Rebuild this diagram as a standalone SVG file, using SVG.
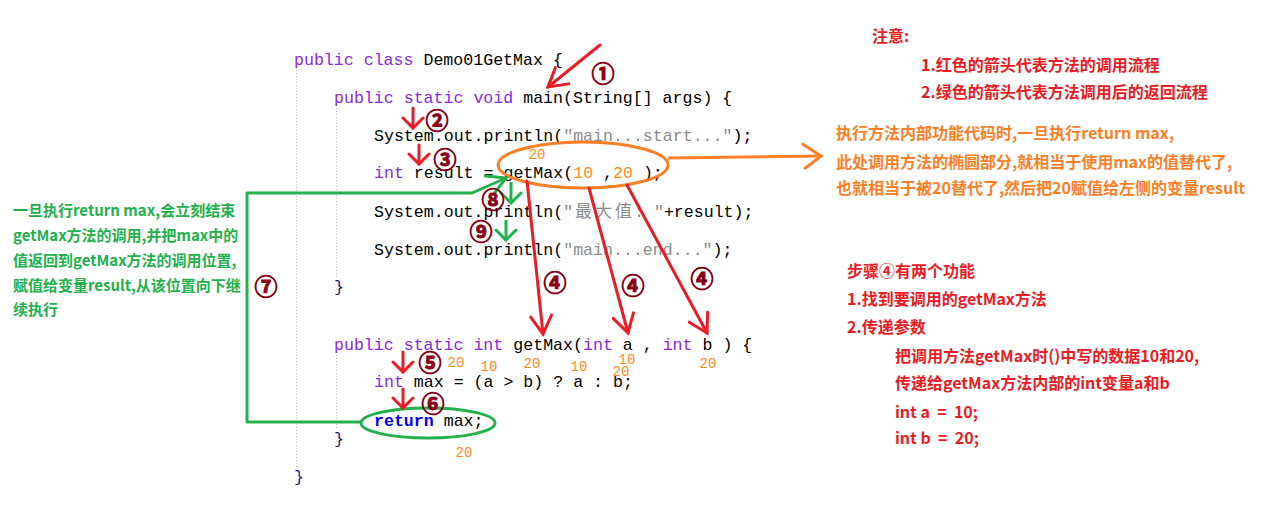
<svg xmlns="http://www.w3.org/2000/svg" width="1275" height="509" viewBox="0 0 1275 509">
<style>
.code{font-family:"Liberation Mono","Courier New",monospace;font-size:16.6px;fill:#000}
.kw{fill:#8a2be2}
.ret{fill:#0000ff;font-weight:bold}
.str{fill:#8c8c8c}
.br{fill:#1a1a80}
.onum{fill:#ff8c1a}
.val{font-family:"Liberation Mono","Courier New",monospace;font-size:14px;fill:#ff8c1a;text-anchor:middle}
.cjk{font-family:"Noto Sans CJK SC",sans-serif;font-size:17px}
.circ{font-family:"Noto Sans CJK SC",sans-serif;font-size:23px;font-weight:bold;fill:#880015;stroke:#880015;stroke-width:0.9;text-anchor:middle}
.note{font-family:"Noto Sans CJK SC",sans-serif;font-size:16px;font-weight:bold}
.red{fill:#ed1c24}
.orange{fill:#ff7f27}
.green{fill:#22b14c}
.gnote{font-family:"Noto Sans CJK SC",sans-serif;font-size:15px;font-weight:bold;fill:#22b14c}
.guide{stroke:#c0c0c0;stroke-width:1;stroke-dasharray:1 2;fill:none}
.ra{stroke:#ed1c24;stroke-width:3;fill:none;stroke-linecap:round}
.ga{stroke:#22b14c;stroke-width:3;fill:none;stroke-linejoin:round}
.oa{stroke:#ff7f27;stroke-width:3;fill:none}
</style>
<defs>
<marker id="ahR" viewBox="0 0 24 24" refX="21" refY="12" markerWidth="24" markerHeight="24" orient="auto" markerUnits="userSpaceOnUse"><path d="M3,1.5 L21,12 L3,22.5" fill="none" stroke="#ed1c24" stroke-width="3" stroke-linecap="round"/></marker>
<marker id="ahRs" viewBox="0 0 16 24" refX="14" refY="12" markerWidth="16" markerHeight="24" orient="auto" markerUnits="userSpaceOnUse"><path d="M4,2 L14,12 L4,22" fill="none" stroke="#ed1c24" stroke-width="3" stroke-linecap="round"/></marker>
<marker id="ahGs" viewBox="0 0 16 24" refX="14" refY="12" markerWidth="16" markerHeight="24" orient="auto" markerUnits="userSpaceOnUse"><path d="M4,2 L14,12 L4,22" fill="none" stroke="#22b14c" stroke-width="3" stroke-linecap="round"/></marker>
<marker id="ahG" viewBox="0 0 24 24" refX="21" refY="12" markerWidth="24" markerHeight="24" orient="auto" markerUnits="userSpaceOnUse"><path d="M3,2 L21,12 L3,22" fill="none" stroke="#22b14c" stroke-width="3" stroke-linecap="round"/></marker>
<marker id="ahO" viewBox="0 0 24 28" refX="21" refY="14" markerWidth="24" markerHeight="28" orient="auto" markerUnits="userSpaceOnUse"><path d="M3,2 L21,14 L5,26" fill="none" stroke="#ff7f27" stroke-width="3" stroke-linecap="round"/></marker>
</defs>
<rect width="1275" height="509" fill="#ffffff"/>

<g id="guides">
<line class="guide" x1="296.5" y1="70" x2="296.5" y2="467"/>
<line class="guide" x1="336.5" y1="108" x2="336.5" y2="278"/>
<line class="guide" x1="336.5" y1="352" x2="336.5" y2="430"/>
</g>

<g id="code">
<text class="code" x="294" y="65" xml:space="preserve"><tspan class="kw">public class</tspan> Demo01GetMax {</text>
<text class="code" x="334" y="103" xml:space="preserve"><tspan class="kw">public static void</tspan> main(String[] args) {</text>
<text class="code" x="374" y="141" xml:space="preserve">System.out.println(<tspan class="str">"main...start..."</tspan>);</text>
<text class="code" x="374" y="178" xml:space="preserve"><tspan class="kw">int</tspan> result = getMax(<tspan class="onum">10</tspan> ,<tspan class="onum">20</tspan> );</text>
<text class="code" x="374" y="217" xml:space="preserve">System.out.println(<tspan class="str">"</tspan><tspan class="str cjk" x="575 595 615">最大值</tspan><tspan class="str" x="634">: "</tspan>+result);</text>
<text class="code" x="374" y="255" xml:space="preserve">System.out.println(<tspan class="str">"main...end..."</tspan>);</text>
<text class="code br" x="334" y="292">}</text>
<text class="code" x="334" y="350" xml:space="preserve"><tspan class="kw">public static int</tspan> getMax(<tspan class="kw">int</tspan> a , <tspan class="kw">int</tspan> b ) {</text>
<text class="code" x="374" y="387" xml:space="preserve"><tspan class="kw">int</tspan> max = (a &gt; b) ? a : b;</text>
<text class="code" x="374" y="426" xml:space="preserve"><tspan class="ret">return</tspan> max;</text>
<text class="code br" x="334" y="444">}</text>
<text class="code br" x="294" y="482">}</text>
</g>

<g id="values">
<text class="val" x="537" y="159">20</text>
<text class="val" x="456" y="367">20</text>
<text class="val" x="489" y="371">10</text>
<text class="val" x="532" y="368">20</text>
<text class="val" x="579" y="371">10</text>
<text class="val" x="627" y="364">10</text>
<text class="val" x="621" y="376">20</text>
<text class="val" x="708" y="368">20</text>
<text class="val" x="464" y="457">20</text>
</g>

<g id="connectors">
<ellipse cx="583" cy="165" rx="85" ry="23" class="oa"/>
<path class="oa" d="M668,158 L821,156" marker-end="url(#ahO)"/>
<ellipse cx="428" cy="423" rx="67" ry="15" class="ga"/>
<path class="ga" d="M361,422 L247,422 L247,193 L472,193 L506,178" marker-end="url(#ahG)"/>
<path class="ga" d="M511,182 L511,203" marker-end="url(#ahGs)"/>
<path class="ga" d="M506,220 L506,240" marker-end="url(#ahGs)"/>
<path class="ra" d="M600,45 L548,87" marker-end="url(#ahR)"/>
<path class="ra" d="M413,108 L413,128" marker-end="url(#ahRs)"/>
<path class="ra" d="M419,145 L419,164" marker-end="url(#ahRs)"/>
<path class="ra" d="M527,181 L543,334" marker-end="url(#ahR)"/>
<path class="ra" d="M589,188 L628,333" marker-end="url(#ahR)"/>
<path class="ra" d="M627,185 L707,333" marker-end="url(#ahR)"/>
<path class="ra" d="M403,352 L403,372" marker-end="url(#ahRs)"/>
<path class="ra" d="M403,389 L403,408" marker-end="url(#ahRs)"/>
</g>

<g id="steps">
<text class="circ" x="603" y="82">①</text>
<text class="circ" x="437" y="129">②</text>
<text class="circ" x="445" y="168">③</text>
<text class="circ" x="555" y="291">④</text>
<text class="circ" x="633" y="294">④</text>
<text class="circ" x="702" y="287">④</text>
<text class="circ" x="430" y="371">⑤</text>
<text class="circ" x="433" y="412">⑥</text>
<text class="circ" x="266" y="295">⑦</text>
<text class="circ" x="493" y="208">⑧</text>
<text class="circ" x="481" y="240">⑨</text>
</g>

<g id="note-legend">
<text class="note red" x="872" y="42">注意:</text>
<text class="note red" x="921" y="71">1.红色的箭头代表方法的调用流程</text>
<text class="note red" x="921" y="98">2.绿色的箭头代表方法调用后的返回流程</text>
</g>

<g id="note-return">
<text class="note orange" x="836" y="139">执行方法内部功能代码时,一旦执行return max,</text>
<text class="note orange" x="836" y="168">此处调用方法的椭圆部分,就相当于使用max的值替代了,</text>
<text class="note orange" x="836" y="194">也就相当于被20替代了,然后把20赋值给左侧的变量result</text>
</g>

<g id="note-step4">
<text class="note red" x="847" y="277">步骤④有两个功能</text>
<text class="note red" x="847" y="305">1.找到要调用的getMax方法</text>
<text class="note red" x="847" y="333">2.传递参数</text>
<text class="note red" x="895" y="362">把调用方法getMax时()中写的数据10和20,</text>
<text class="note red" x="895" y="389">传递给getMax方法内部的int变量a和b</text>
<text class="note red" x="895" y="418" xml:space="preserve">int a  =  10;</text>
<text class="note red" x="895" y="444" xml:space="preserve">int b  =  20;</text>
</g>

<g id="note-green">
<text class="gnote" x="13" y="216">一旦执行return max,会立刻结束</text>
<text class="gnote" x="13" y="241">getMax方法的调用,并把max中的</text>
<text class="gnote" x="13" y="266">值返回到getMax方法的调用位置,</text>
<text class="gnote" x="13" y="291">赋值给变量result,从该位置向下继</text>
<text class="gnote" x="13" y="315">续执行</text>
</g>
</svg>
